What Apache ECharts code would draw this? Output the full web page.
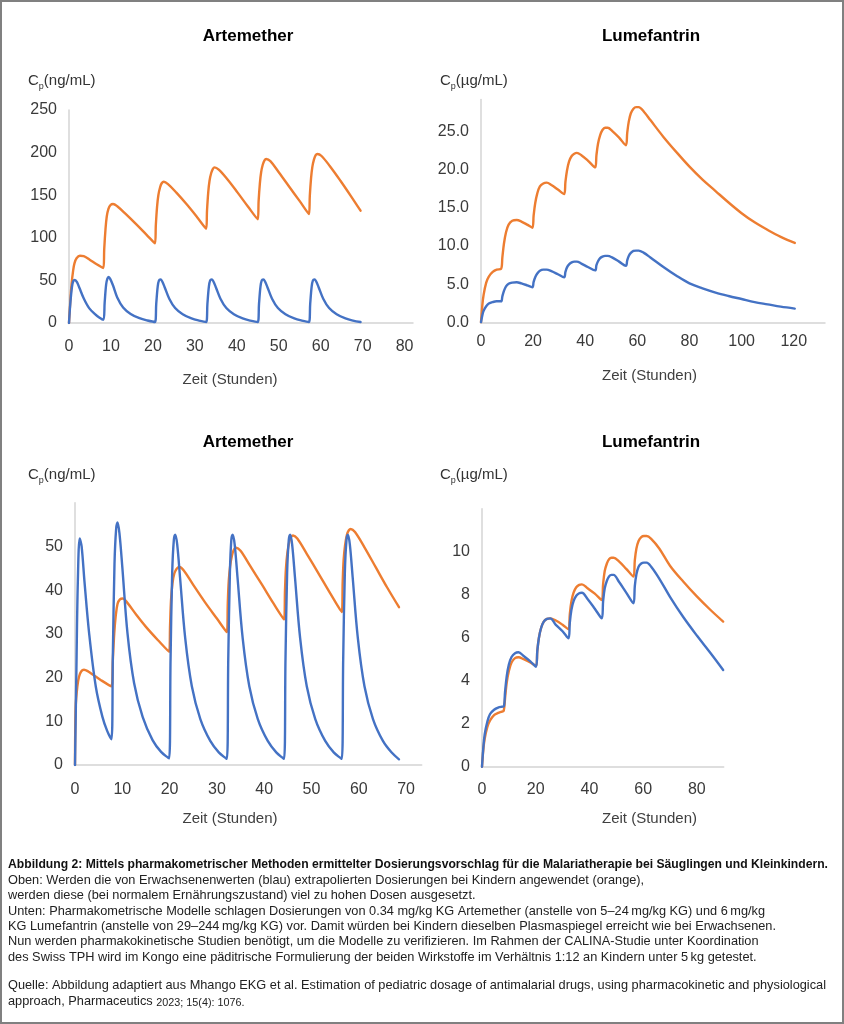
<!DOCTYPE html>
<html><head><meta charset="utf-8">
<script src="https://cdn.jsdelivr.net/npm/echarts@6/dist/echarts.min.js"></script>
<style>html,body{margin:0;padding:0;background:#fff}#c{width:844px;height:1024px}</style>
</head><body><div id="c"></div>
<script>
// ---------------- data (time in hours, concentration) ----------------
// Top-left: Artemether, adult-extrapolated dose
const artTopAdult = [[0,0],[0.3,22],[0.7,42],[1.0,49],[1.4,50.5],[1.9,48],[2.5,41],[3.5,29],[4.8,17.5],[6.2,10.5],[7.2,6.5],[8.2,3.8],
 [8.5,24],[8.85,45],[9.15,52],[9.45,54],[9.85,51.5],[10.5,44],[11.5,30],[12.9,18.3],[14.7,10.7],[16.8,5.6],[18.7,2.9],[20.5,1.2],
 [20.8,23],[21.15,43],[21.45,50],[21.8,51],[22.2,49],[22.8,42],[23.9,28.5],[25.3,17.5],[27.1,10.2],[29.2,5.3],[31,2.8],[32.7,1.2],
 [33.0,23],[33.35,43],[33.65,50],[34.0,51],[34.4,49],[35.0,42],[36.1,28.5],[37.5,17.5],[39.3,10.2],[41.4,5.3],[43.2,2.8],[45.0,1.2],
 [45.3,23],[45.65,43],[45.95,50],[46.3,51],[46.7,49],[47.3,42],[48.4,28.5],[49.8,17.5],[51.6,10.2],[53.7,5.3],[55.5,2.8],[57.2,1.2],
 [57.5,23],[57.85,43],[58.15,50],[58.5,51],[58.9,49],[59.5,42],[60.6,28.5],[62.0,17.5],[63.8,10.2],[65.9,5.3],[67.7,2.8],[69.5,1.2]];
const artTopChild = [[0,0],[0.3,25],[0.6,45],[1.0,62],[1.3,70],[1.8,76],[2.6,79],[3.5,78.5],[5,74],[6.6,69],[8.2,64.5],
 [8.4,87],[8.7,110],[9.0,125],[9.4,134],[9.9,138.5],[10.5,139.7],[11.5,137],[13.5,128],[16,116],[18.5,103.5],[20.5,93.5],
 [20.7,115],[21.0,137],[21.3,150],[21.7,159],[22.1,164],[22.6,165.8],[23.6,163],[25.6,153],[28.1,139],[30.5,124.5],[32.7,110.7],
 [32.9,132],[33.2,154],[33.5,167],[33.9,176],[34.3,181],[34.7,182.7],[35.7,180],[37.7,169],[40.2,153],[42.6,137],[45.0,121.7],
 [45.2,143],[45.5,164],[45.8,177],[46.2,186],[46.6,191],[47.0,192.5],[48,190],[50,177],[52.5,160],[55,143],[57.2,128],
 [57.4,149],[57.7,170],[58,183],[58.4,192],[58.8,197],[59.2,198.4],[60.2,196],[62.2,184],[64.7,167],[67.2,149],[69.5,131.8]];

// Top-right: Lumefantrin
const lumTopAdult = [[0,0],[0.5,0.9],[1,1.5],[2,2.1],[3,2.45],[4.5,2.65],[6,2.75],[7.7,2.75],
 [8.2,3.4],[8.8,4.1],[9.6,4.7],[10.6,5.05],[12,5.2],[13.7,5.25],[15.5,5.1],[17.7,4.85],[19.7,4.6],
 [20.2,5.3],[20.8,5.9],[21.6,6.4],[22.6,6.75],[23.9,6.9],[25.2,6.9],[27,6.7],[29.5,6.3],[31.9,5.9],
 [32.4,6.6],[33,7.2],[33.8,7.6],[34.8,7.85],[35.8,7.95],[36.8,7.95],[38.5,7.7],[41,7.25],[43.8,6.8],
 [44.3,7.5],[44.9,8.0],[45.7,8.4],[46.6,8.6],[47.6,8.7],[48.6,8.7],[50.3,8.5],[53,7.95],[55.6,7.4],
 [56.1,8.1],[56.7,8.7],[57.5,9.1],[58.5,9.35],[59.5,9.4],[60.5,9.4],[62.5,9.1],[65,8.5],[70,7.25],[75,6.1],[80,5.1],
 [85,4.45],[90,3.9],[95,3.45],[100,3.05],[105,2.65],[110,2.35],[115,2.05],[120.4,1.8]];
const lumTopChild = [[0,0],[0.5,2.2],[1,3.6],[2,5.2],[3,6.0],[4.5,6.6],[6,6.9],[7.7,7.0],
 [8.2,8.5],[8.8,10.3],[9.6,11.8],[10.6,12.8],[12,13.3],[13.7,13.4],[15.5,13.2],[17.7,12.8],[19.7,12.4],
 [20.2,14.0],[20.8,15.6],[21.6,16.9],[22.6,17.8],[23.9,18.2],[25.2,18.3],[27,18.0],[29.5,17.4],[31.9,16.8],
 [32.4,18.4],[33,19.9],[33.8,21.1],[34.8,21.8],[35.8,22.1],[36.8,22.2],[38.5,21.9],[41,21.2],[43.8,20.3],
 [44.3,21.9],[44.9,23.4],[45.7,24.5],[46.6,25.2],[47.6,25.5],[48.6,25.5],[50.3,25.1],[53,24.2],[55.6,23.2],
 [56.1,24.8],[56.7,26.3],[57.5,27.4],[58.5,28.0],[59.5,28.2],[60.5,28.2],[62.5,27.6],[65,26.5],[70,24.3],[75,22.3],
 [80,20.4],[85,18.7],[90,17.2],[95,15.7],[100,14.3],[105,13.1],[110,12.1],[115,11.2],[120.4,10.4]];

// Bottom-left: Artemether, pharmacometric dose
const artBotAdult = [[0,0],[0.3,22],[0.6,42],[1.0,51.8],[1.4,50],[2.0,42],[3.0,30],[4.4,17.9],[5.8,11],[6.8,7.8],[7.7,5.9],
 [8.0,25],[8.35,46],[8.7,54],[9.0,55.5],[9.4,53],[10.0,45.3],[11.1,30.1],[12.5,18.7],[14.3,11],[16.4,5.7],[18.2,3],[19.9,1.5],
 [20.2,24],[20.55,44],[20.9,51.5],[21.2,52.7],[21.6,50.5],[22.2,43],[23.3,29],[24.7,18],[26.5,10.5],[28.6,5.5],[30.4,2.9],[32.1,1.4],
 [32.4,24],[32.75,44],[33.05,51.5],[33.35,52.7],[33.75,50.5],[34.35,43],[35.45,29],[36.85,18],[38.65,10.5],[40.75,5.5],[42.55,2.9],[44.2,1.4],
 [44.5,24],[44.85,44],[45.2,51.5],[45.5,52.7],[45.9,50.5],[46.5,43],[47.6,29],[49.0,18],[50.8,10.5],[52.9,5.5],[54.7,2.9],[56.4,1.4],
 [56.7,24],[57.05,44],[57.4,51.5],[57.7,52.7],[58.1,50.5],[58.7,43],[59.8,29],[61.2,18],[63.0,10.5],[65.1,5.5],[66.9,2.9],[68.5,1.3]];
const artBotChild = [[0,0],[0.15,13.3],[0.5,18],[0.85,20.2],[1.3,21.4],[1.9,21.8],[2.8,21.4],[4,20.5],[5.5,19.4],[7.7,18.0],
 [8.0,24],[8.3,30.1],[8.6,34],[9.0,36.9],[9.5,37.9],[10.1,38.1],[11,37.2],[13,34.3],[15,31.6],[17.5,28.6],[19.9,25.9],
 [20.1,32],[20.3,37.7],[20.6,41.5],[21.0,43.8],[21.5,44.9],[22.1,45.3],[23,44.5],[25,41.2],[27.5,37.2],[30,33.5],[32.1,30.4],
 [32.3,37],[32.5,42],[32.8,45.5],[33.2,48],[33.6,49.3],[34.1,49.7],[35,49],[37,45.6],[39.5,41.3],[42,36.9],[44.2,33.3],
 [44.4,40],[44.6,45],[44.9,48.5],[45.3,51],[45.7,52.2],[46.1,52.5],[47,51.8],[49,48.3],[51.5,43.8],[54,39.2],[56.4,35.0],
 [56.6,42],[56.8,47],[57.1,50.3],[57.5,52.7],[57.9,53.7],[58.3,54.0],[59.2,53.3],[61.2,49.8],[63.6,45.2],[66,40.6],[68.5,36.1]];

// Bottom-right: Lumefantrin, pharmacometric dose
const lumBotAdult = [[0,0],[0.5,0.9],[1,1.5],[2,2.1],[3,2.45],[4.5,2.65],[6,2.75],[7.4,2.79],[8.1,2.8],
 [8.6,3.5],[9.2,4.2],[10,4.75],[11,5.1],[12.3,5.28],[13.6,5.32],[15.5,5.15],[18,4.9],[20.1,4.65],
 [20.6,5.4],[21.2,6.0],[22,6.45],[23,6.75],[24.2,6.88],[25.4,6.9],[27.5,6.6],[30,6.3],[32.2,5.97],
 [32.7,6.7],[33.3,7.3],[34.1,7.7],[35.1,7.95],[36.2,8.07],[37.2,8.09],[39.3,7.8],[42,7.35],[44.6,6.9],
 [45.1,7.7],[45.7,8.3],[46.5,8.65],[47.3,8.85],[48.2,8.92],[49,8.92],[51,8.6],[53.7,8.1],[56.4,7.6],
 [56.9,8.4],[57.5,8.95],[58.3,9.3],[59.3,9.45],[60.3,9.49],[61.3,9.49],[63,9.3],[66,8.75],[70,7.9],[75,6.95],
 [80,6.1],[85,5.3],[89.8,4.5]];
const lumBotChild = [[0,0],[0.5,0.8],[1,1.3],[2,1.85],[3,2.15],[4.5,2.4],[6,2.5],[7.4,2.56],[8.1,2.6],
 [8.6,3.2],[9.2,3.9],[10,4.45],[11,4.85],[12.3,5.05],[13.6,5.09],[15.5,5.0],[18,4.85],[20.1,4.68],
 [20.6,5.4],[21.2,6.0],[22,6.45],[23,6.75],[24.2,6.88],[25.4,6.9],[27.5,6.8],[30,6.6],[32.2,6.39],
 [32.7,7.1],[33.3,7.7],[34.1,8.1],[35.1,8.35],[36.2,8.46],[37.2,8.48],[39.3,8.3],[42,8.05],[44.6,7.75],
 [45.1,8.5],[45.7,9.1],[46.5,9.45],[47.3,9.65],[48.2,9.72],[49,9.72],[51,9.55],[53.7,9.2],[56.4,8.84],
 [56.9,9.6],[57.5,10.15],[58.3,10.5],[59.3,10.68],[60.3,10.73],[61.3,10.73],[63,10.6],[66,10.15],[70,9.35],[75,8.6],
 [80,7.92],[85,7.3],[89.8,6.75]];

// ---------------- tick labels ----------------
const artTopXTicks = [0,10,20,30,40,50,60,70,80];
const artTopYTicks = [0,50,100,150,200,250];
const lumTopXTicks = [0,20,40,60,80,100,120];
const lumTopYTicks = [0,5,10,15,20,25];
const lumTopYLabels = ['0.0','5.0','10.0','15.0','20.0','25.0'];
const artBotXTicks = [0,10,20,30,40,50,60,70];
const artBotYTicks = [0,10,20,30,40,50];
const lumBotXTicks = [0,20,40,60,80];
const lumBotYTicks = [0,2,4,6,8,10];

const panelTitles = ['Artemether','Lumefantrin','Artemether','Lumefantrin'];
const yUnits = ['(ng/mL)','(\u00b5g/mL)','(ng/mL)','(\u00b5g/mL)'];
const xName = 'Zeit (Stunden)';

const captionBold = 'Abbildung 2: Mittels pharmakometrischer Methoden ermittelter Dosierungsvorschlag f\u00fcr die Malariatherapie bei S\u00e4uglingen und Kleinkindern.';
const captionLines = [
 'Oben: Werden die von Erwachsenenwerten (blau) extrapolierten Dosierungen bei Kindern angewendet (orange),',
 'werden diese (bei normalem Ern\u00e4hrungszustand) viel zu hohen Dosen ausgesetzt.',
 'Unten: Pharmakometrische Modelle schlagen Dosierungen von 0.34 mg/kg KG Artemether (anstelle von 5\u201324\u2009mg/kg KG) und 6\u2009mg/kg',
 'KG Lumefantrin (anstelle von 29\u2013244\u2009mg/kg KG) vor. Damit w\u00fcrden bei Kindern dieselben Plasmaspiegel erreicht wie bei Erwachsenen.',
 'Nun werden pharmakokinetische Studien ben\u00f6tigt, um die Modelle zu verifizieren. Im Rahmen der CALINA-Studie unter Koordination',
 'des Swiss TPH wird im Kongo eine p\u00e4ditrische Formulierung der beiden Wirkstoffe im Verh\u00e4ltnis 1:12 an Kindern unter 5\u2009kg getestet.'
];
const sourceLine1 = 'Quelle: Abbildung adaptiert aus Mhango EKG et al. Estimation of pediatric dosage of antimalarial drugs, using pharmacokinetic and physiological';
const sourceLine2a = 'approach, Pharmaceutics ';
const sourceLine2b = '2023; 15(4): 1076.';

// ---------------- layout ----------------
const BLUE = '#4472C4', ORANGE = '#ED7D31';
const FONT = "'Liberation Sans', Arial, sans-serif";
const TICK_COLOR = '#3a3a3a';
const AXIS_COLOR = '#d4d4d4';

const grids = [
 {left:69, top:110, width:344, height:213},
 {left:481, top:99.5, width:344, height:222.8},
 {left:75, top:502.7, width:346.7, height:262.3},
 {left:482, top:508.7, width:241.7, height:258}
];
const xMax = [82, 132, 73.3, 90];
const yMax = [250, 29.2, 60, 12];
const xTicks = [artTopXTicks, lumTopXTicks, artBotXTicks, lumBotXTicks];
const yTicks = [artTopYTicks, lumTopYTicks, artBotYTicks, lumBotYTicks];
const xMargins = [16, 11, 17, 15];

function fmt(ticks, labels) {
  return function (v) {
    const i = ticks.findIndex(t => Math.abs(t - v) < 1e-6);
    if (i < 0) return '';
    return labels ? labels[i] : String(ticks[i]);
  };
}

const xAxes = grids.map((g, i) => ({
  type:'value', gridIndex:i, min:0, max:xMax[i], interval:xTicks[i][1]-xTicks[i][0],
  axisLine:{show:true, onZero:false, lineStyle:{color:AXIS_COLOR, width:1.5}},
  axisTick:{show:false}, splitLine:{show:false},
  axisLabel:{color:TICK_COLOR, fontSize:16, fontFamily:FONT, margin:xMargins[i], formatter:fmt(xTicks[i])}
}));
const yAxes = grids.map((g, i) => ({
  type:'value', gridIndex:i, min:0, max:yMax[i], interval:yTicks[i][1]-yTicks[i][0],
  axisLine:{show:true, lineStyle:{color:AXIS_COLOR, width:1.5}},
  axisTick:{show:false}, splitLine:{show:false},
  axisLabel:{color:TICK_COLOR, fontSize:16, fontFamily:FONT, margin:12, formatter:fmt(yTicks[i], i===1 ? lumTopYLabels : null)}
}));

const seriesData = [
  [artTopAdult, artTopChild], [lumTopAdult, lumTopChild],
  [artBotAdult, artBotChild], [lumBotAdult, lumBotChild]
];
const series = [];
seriesData.forEach((pair, i) => {
  pair.forEach((d, j) => {
    series.push({
      type:'line', xAxisIndex:i, yAxisIndex:i, data:d, showSymbol:false, symbol:'none',
      smooth:0.35, z: j===0 ? 3 : 2,
      lineStyle:{color: j===0 ? BLUE : ORANGE, width:2.4, cap:'round', join:'round'}
    });
  });
});

// text positions
const titlePos = [[248,36],[651,36],[248,442],[651,442]];
const yNamePos = [[28,81],[440,81],[28,475],[440,475]];
const xNamePos = [[230,380],[649.5,376],[230,819],[649.5,819]];

const graphics = [];
graphics.push({type:'rect', shape:{x:1, y:1, width:842, height:1022}, style:{fill:'none', stroke:'#808080', lineWidth:2}, silent:true});
panelTitles.forEach((t, i) => {
  graphics.push({type:'text', x:titlePos[i][0], y:titlePos[i][1],
    style:{text:t, font:"bold 17px " + FONT, fill:'#000', textAlign:'center', textVerticalAlign:'middle'}});
  graphics.push({type:'text', x:yNamePos[i][0], y:yNamePos[i][1],
    style:{text:'{a|C}{b|p}{a|' + yUnits[i] + '}', textVerticalAlign:'middle', textAlign:'left',
      rich:{a:{fontSize:15, fontFamily:FONT, fill:'#333', lineHeight:20, verticalAlign:'middle'},
            b:{fontSize:9, fontFamily:FONT, fill:'#333', lineHeight:20, verticalAlign:'bottom'}}}});
  graphics.push({type:'text', x:xNamePos[i][0], y:xNamePos[i][1],
    style:{text:xName, font:"15px " + FONT, fill:'#404040', textAlign:'center', textVerticalAlign:'middle'}});
});

// caption: one common horizontal condensation so the longest line fits the box
const cv = document.createElement('canvas').getContext('2d');
const capX = 8;
cv.font = '13px ' + FONT;
const regScale = (826 - capX) / cv.measureText(sourceLine1).width;
cv.font = 'bold 13px ' + FONT;
const boldScale = (828 - capX) / cv.measureText(captionBold).width;
function capLine(text, y, bold) {
  graphics.push({type:'text', x:capX, y:y, scaleX: bold ? boldScale : regScale,
    style:{text:text, font:(bold ? 'bold ' : '') + '13px ' + FONT, fill: bold ? '#111' : '#222', textVerticalAlign:'middle'}});
}
const capY = [880, 895, 911, 926, 941, 957];
capLine(captionBold, 864, true);
captionLines.forEach((l, k) => capLine(l, capY[k], false));
capLine(sourceLine1, 985, false);
graphics.push({type:'text', x:capX, y:1000, scaleX:regScale,
  style:{text:'{a|' + sourceLine2a + '}{b|' + sourceLine2b + '}', textVerticalAlign:'middle',
    rich:{a:{fontSize:13, fontFamily:FONT, fill:'#222', verticalAlign:'bottom', lineHeight:16},
          b:{fontSize:11, fontFamily:FONT, fill:'#222', verticalAlign:'bottom', lineHeight:16}}}});

const chart = echarts.init(document.getElementById('c'));
chart.setOption({
  animation:false,
  backgroundColor:'#fff',
  grid: grids.map(g => Object.assign({containLabel:false}, g)),
  xAxis: xAxes, yAxis: yAxes, series: series,
  graphic: graphics
});
</script>
</body></html>
